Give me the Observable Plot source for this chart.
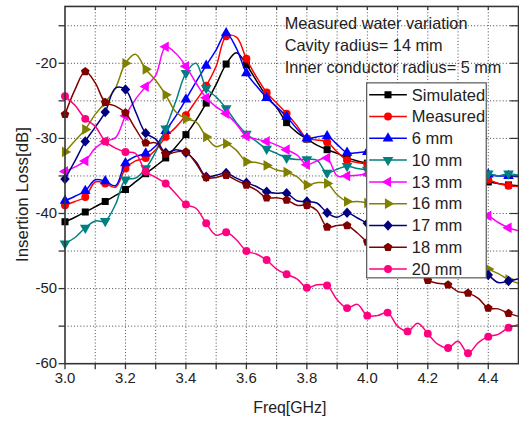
<!DOCTYPE html>
<html>
<head>
<meta charset="utf-8">
<script src="https://cdn.jsdelivr.net/npm/d3@7"></script>
<script src="https://cdn.jsdelivr.net/npm/@observablehq/plot@0.6"></script>
<style>
  html, body { margin: 0; padding: 0; background: #fff; overflow: hidden; }
  #chart { width: 519px; height: 426px; overflow: hidden; }
</style>
</head>
<body>
<div id="chart"></div>
<script>
// Frequency samples (GHz)
const freqGHz = [3.000, 3.033, 3.067, 3.100, 3.133, 3.167, 3.200, 3.233, 3.267, 3.300,
                 3.333, 3.367, 3.400, 3.433, 3.467, 3.500, 3.533, 3.567, 3.600, 3.633,
                 3.667, 3.700, 3.733, 3.767, 3.800, 3.833, 3.867, 3.900, 3.933, 3.967,
                 4.000, 4.033, 4.067, 4.100, 4.133, 4.167, 4.200, 4.233, 4.267, 4.300,
                 4.333, 4.367, 4.400, 4.433, 4.467, 4.500];

// Insertion loss (dB) per curve
const simulated = [-41.1,-40.5,-39.8,-39.1,-38.4,-37.6,-36.8,-35.8,-34.7,-33.7,
                   -32.6,-31.1,-29.5,-27.6,-25.3,-22.8,-20.1,-18.6,-20.2,-22.3,
                   -24.4,-25.9,-27.9,-29.2,-30.1,-30.9,-31.5,-32.0,-32.6,-33.0,
                   -33.3,-33.6,-33.9,-34.2,-34.5,-34.7,-34.9,-35.1,-35.3,-35.5,
                   -35.6,-35.7,-35.8,-36.0,-36.2,-36.3];
const measured  = [-38.9,-38.4,-37.8,-35.8,-36.0,-36.5,-34.0,-33.0,-32.6,-31.5,
                   -29.8,-28.5,-26.9,-25.0,-23.0,-20.4,-16.4,-16.5,-19.4,-21.8,
                   -23.9,-25.3,-26.7,-28.3,-30.0,-30.2,-30.5,-31.8,-32.9,-33.2,
                   -33.4,-33.6,-33.8,-34.0,-34.2,-34.4,-34.6,-34.8,-35.0,-35.1,
                   -35.2,-35.3,-35.5,-36.0,-36.3,-36.4];
const mm6  = [-38.3,-37.7,-37.0,-35.5,-35.7,-36.3,-33.3,-32.4,-32.0,-31.0,
              -29.0,-27.0,-24.8,-22.5,-20.3,-18.2,-16.0,-18.0,-21.3,-23.0,
              -24.6,-25.8,-27.1,-28.7,-30.0,-29.8,-29.7,-30.8,-31.9,-31.9,
              -31.8,-32.2,-32.6,-33.0,-33.3,-33.6,-33.8,-34.0,-34.2,-34.4,
              -34.5,-34.6,-34.8,-35.0,-35.0,-35.1];
const mm10 = [-44.0,-43.2,-41.9,-41.0,-41.0,-38.8,-35.5,-35.3,-34.0,-31.8,
              -28.7,-25.0,-21.3,-20.0,-23.3,-24.5,-26.0,-27.9,-29.4,-30.4,
              -31.4,-32.0,-32.6,-32.8,-32.8,-32.9,-34.6,-34.1,-33.7,-34.0,
              -34.2,-34.3,-34.4,-34.5,-34.5,-34.6,-34.6,-34.7,-34.7,-34.7,
              -34.7,-34.7,-34.7,-35.0,-34.7,-34.9];
const mm13 = [-34.4,-33.8,-33.0,-31.3,-30.4,-29.9,-27.0,-24.8,-23.1,-21.6,
              -17.8,-18.7,-20.4,-22.6,-24.6,-25.8,-26.7,-28.1,-29.7,-30.1,
              -30.4,-30.9,-31.5,-32.2,-33.5,-33.0,-32.6,-35.0,-35.0,-34.9,
              -34.8,-35.2,-35.6,-36.0,-36.5,-37.0,-37.5,-38.0,-38.5,-39.0,
              -39.5,-40.0,-40.3,-41.2,-41.9,-42.3];
const mm16 = [-31.8,-30.3,-28.8,-26.8,-25.2,-23.3,-20.0,-18.8,-20.8,-22.3,
              -24.2,-26.5,-27.4,-27.8,-29.8,-31.1,-30.7,-31.6,-33.1,-33.2,
              -33.6,-34.2,-34.5,-35.1,-36.2,-35.9,-36.0,-37.5,-38.4,-38.4,
              -38.6,-39.0,-39.7,-40.3,-41.0,-41.7,-42.5,-43.3,-44.2,-45.0,
              -45.8,-46.7,-47.4,-48.0,-48.8,-49.3];
const mm17 = [-35.4,-33.0,-30.4,-28.5,-26.5,-23.3,-23.5,-26.4,-29.3,-30.1,
              -31.9,-31.5,-31.9,-33.1,-35.1,-34.9,-34.6,-35.3,-35.9,-36.4,
              -37.1,-37.3,-37.3,-38.3,-38.4,-38.6,-39.9,-40.5,-39.9,-40.6,
              -41.3,-41.8,-42.3,-42.8,-43.3,-43.9,-44.5,-45.1,-45.7,-46.3,
              -46.9,-47.5,-48.2,-49.2,-49.0,-48.7];
const mm18 = [-26.8,-23.5,-21.1,-22.6,-25.2,-25.7,-26.6,-28.7,-30.6,-30.6,
              -32.1,-31.8,-31.8,-33.3,-35.2,-35.2,-34.9,-35.6,-36.2,-36.9,
              -37.9,-37.9,-38.2,-38.9,-38.9,-39.6,-41.8,-41.6,-41.6,-42.6,
              -43.8,-44.5,-45.3,-46.1,-46.9,-47.8,-48.9,-49.3,-49.5,-50.4,
              -50.6,-51.3,-52.6,-52.7,-53.3,-53.7];
const mm20 = [-24.4,-25.6,-27.4,-28.4,-30.4,-31.3,-31.8,-32.0,-34.4,-35.2,
              -36.0,-37.4,-38.8,-39.3,-41.3,-42.9,-42.5,-43.5,-45.0,-45.4,
              -46.2,-47.4,-48.1,-48.7,-49.9,-49.5,-49.6,-51.5,-52.6,-52.1,
              -53.6,-53.6,-53.2,-55.0,-55.7,-54.6,-56.0,-57.4,-57.9,-57.0,
              -58.6,-57.2,-56.4,-56.1,-55.2,-54.8];

const seriesNames = ["Simulated", "Measured", "6 mm", "10 mm", "13 mm", "16 mm", "17 mm", "18 mm", "20 mm"];
const seriesValues = [simulated, measured, mm6, mm10, mm13, mm16, mm17, mm18, mm20];
const seriesColors = ["#000000", "#ff0000", "#0000ff", "#008080", "#ff00ff", "#808000", "#000080", "#800000", "#ff0080"];

// Axis ticks
const xTicks = [3.0, 3.1, 3.2, 3.3, 3.4, 3.5, 3.6, 3.7, 3.8, 3.9, 4.0, 4.1, 4.2, 4.3, 4.4];
const yTicks = [-60, -55, -50, -45, -40, -35, -30, -25, -20, -15];

const annotation = ["Measured water variation", "Cavity radius= 14 mm", "Inner conductor radius= 5 mm"];

// Marker shapes (area = size, like d3 symbols)
const SQRT3 = Math.sqrt(3);
function triangleTurned(deg) {
  const a = deg * Math.PI / 180, c = Math.cos(a), s = Math.sin(a);
  return {
    draw(ctx, size) {
      const y = -Math.sqrt(size / (SQRT3 * 3));
      [[0, y * 2], [-SQRT3 * y, -y], [SQRT3 * y, -y]].forEach(([px, py], k) => {
        const X = px * c - py * s, Y = px * s + py * c;
        k ? ctx.lineTo(X, Y) : ctx.moveTo(X, Y);
      });
      ctx.closePath();
    }
  };
}
const pentagon = {
  draw(ctx, size) {
    const R = Math.sqrt(size / (2.5 * Math.sin(2 * Math.PI / 5)));
    for (let k = 0; k < 5; k++) {
      const t = -Math.PI / 2 + k * 2 * Math.PI / 5;
      const X = R * Math.cos(t), Y = R * Math.sin(t);
      k ? ctx.lineTo(X, Y) : ctx.moveTo(X, Y);
    }
    ctx.closePath();
  }
};
const rhombus = {
  draw(ctx, size) {
    const h = Math.sqrt(size / 2) * 1.05, w = Math.sqrt(size / 2) * 0.95;
    ctx.moveTo(0, -h); ctx.lineTo(w, 0); ctx.lineTo(0, h); ctx.lineTo(-w, 0); ctx.closePath();
  }
};
const seriesSymbols = [d3.symbolSquare, d3.symbolCircle, triangleTurned(0), triangleTurned(180),
                       triangleTurned(-90), triangleTurned(90), rhombus, pentagon, d3.symbolCircle];
const markerR = 4;

const series = seriesNames.map((name, k) => ({
  name, color: seriesColors[k], symbol: seriesSymbols[k],
  points: seriesValues[k].map((v, i) => ({f: freqGHz[i], v, i}))
}));

const W = 523, H = 426;
const mL = 65, mR = 1, mT = 6, mB = 60;

const marks = [
  Plot.gridX(xTicks.slice(1), {stroke: "#333", strokeOpacity: 0.9, strokeDasharray: "1,2.2", strokeWidth: 1}),
  Plot.gridY(yTicks.slice(1), {stroke: "#333", strokeOpacity: 0.9, strokeDasharray: "1,2.2", strokeWidth: 1})
];
for (const s of series) {
  marks.push(Plot.line(s.points, {x: "f", y: "v", stroke: s.color, strokeWidth: 1.5, curve: "catmull-rom"}));
  marks.push(Plot.dot(s.points.filter(d => d.i % 2 === 0), {x: "f", y: "v", symbol: s.symbol, r: markerR, fill: s.color, stroke: "none"}));
}
marks.push(
  Plot.frame({stroke: "#333", strokeWidth: 1.6}),
  Plot.axisX(xTicks, {anchor: "bottom", tickSize: 6, tickPadding: 3, stroke: "#333", strokeWidth: 1.3,
    tickFormat: d => (Math.round(d * 10) % 2 === 0 ? d.toFixed(1) : ""), label: null, fontSize: 15}),
  Plot.axisY(yTicks, {anchor: "left", tickSize: 6, tickPadding: 2, stroke: "#333", strokeWidth: 1.3,
    tickFormat: d => (d % 10 === 0 ? String(d) : ""), label: null, fontSize: 15}),
  Plot.tickX(xTicks.slice(1), {x: d => d, insetBottom: H - mT - mB - 4, stroke: "#333", strokeWidth: 1.2}),
  Plot.tickY(yTicks.slice(1), {y: d => d, insetLeft: W - mL - mR - 8, stroke: "#333", strokeWidth: 1.2})
);

const chart = Plot.plot({
  width: W, height: H,
  marginLeft: mL, marginRight: mR, marginTop: mT, marginBottom: mB,
  x: {domain: [3.0, 4.5]},
  y: {domain: [-60, -12.43]},
  style: {fontFamily: "'Liberation Sans', Arial, sans-serif", fontSize: "15px", color: "#222", background: "#fff"},
  marks
});

const svg = d3.select(chart);
const font = "'Liberation Sans', Arial, sans-serif";

// Axis titles
svg.append("text").attr("x", 292).attr("y", 416).attr("text-anchor", "middle")
  .attr("font-family", font).attr("font-size", 16).attr("fill", "#222").text("Freq[GHz]");
svg.append("text").attr("transform", "translate(28,196) rotate(-90)").attr("text-anchor", "middle")
  .attr("font-family", font).attr("font-size", 17).attr("fill", "#222").text("Insertion Loss[dB]");

// Notes in the upper right
annotation.forEach((t, k) => {
  svg.append("text").attr("x", 287).attr("y", 29.5 + k * 22).attr("text-anchor", "start")
    .attr("font-family", font).attr("font-size", 16.4).attr("fill", "#222").text(t);
});

// Legend box
const leg = svg.append("g");
leg.append("rect").attr("x", 369.5).attr("y", 83.5).attr("width", 120.5).attr("height", 196.5)
  .attr("fill", "#fff").attr("stroke", "#555").attr("stroke-width", 1.2);
series.forEach((s, k) => {
  const y = 95.5 + k * 21.95;
  leg.append("line").attr("x1", 372).attr("x2", 410).attr("y1", y).attr("y2", y)
    .attr("stroke", s.color).attr("stroke-width", 1.5);
  leg.append("path").attr("transform", `translate(391,${y})`)
    .attr("d", d3.symbol(s.symbol, Math.PI * markerR * markerR)()).attr("fill", s.color);
  leg.append("text").attr("x", 415).attr("y", y + 5.8).attr("text-anchor", "start")
    .attr("font-family", font).attr("font-size", 16.6).attr("fill", "#222").text(s.name);
});

document.getElementById("chart").append(chart);
</script>
</body>
</html>
